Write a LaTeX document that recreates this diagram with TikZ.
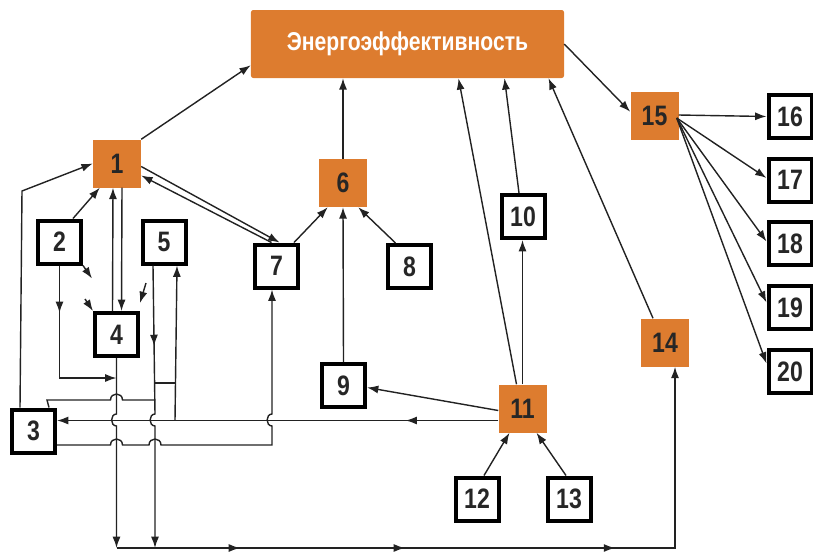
\documentclass[tikz,border=0pt]{standalone}
\usepackage{fontspec}
\setmainfont{Liberation Sans}[FakeStretch=0.82]
\usepackage{xcolor}
\usetikzlibrary{arrows.meta, calc, decorations.markings}
\definecolor{effOrange}{HTML}{DD7C2F}
\definecolor{boxText}{HTML}{262626}
\definecolor{wireGray}{HTML}{222222}

\tikzset{
  whitebox/.style={draw=black, fill=white, line width=0.12cm, minimum size=1.29cm,
                   inner sep=0pt, font=\fontsize{24}{27}\selectfont\bfseries, text=boxText},
  orangebox/.style={fill=effOrange, minimum size=1.44cm, inner sep=0pt,
                    font=\fontsize{24}{27}\selectfont\bfseries, text=boxText},
  wire/.style={line width=1.2pt, draw=wireGray},
  conn/.style={wire, -{Latex[length=3.4mm, width=2.4mm]}},
  arrowat/.style={postaction={decorate, decoration={markings,
      mark=at position #1 with {\arrow{Latex[length=3.4mm, width=2.4mm]}}}}},
}

\begin{document}
\begin{tikzpicture}[x=0.03cm, y=-0.03cm]
  \useasboundingbox (0,0) rectangle (813,552);

  \node[fill=effOrange, rounded corners=2pt, minimum width=9.39cm, minimum height=2.04cm,
        inner sep=0pt, text=white, font=\fontsize{22}{26}\selectfont\bfseries]
        (energy) at (407.5,44) {Энергоэффективность};

  \node[orangebox] (n1) at (117,163.5) {1};
  \node[whitebox] (n2) at (59.5,242) {2};
  \node[whitebox] (n3) at (33.5,431) {3};
  \node[whitebox] (n4) at (116.5,334.5) {4};
  \node[whitebox] (n5) at (164,242) {5};
  \node[orangebox] (n6) at (343,183) {6};
  \node[whitebox] (n7) at (276.5,266) {7};
  \node[whitebox] (n8) at (409.5,266.5) {8};
  \node[whitebox] (n9) at (343.5,385.5) {9};
  \node[whitebox] (n10) at (523,216.5) {10};
  \node[orangebox] (n11) at (522.5,408.5) {11};
  \node[whitebox] (n12) at (477,499) {12};
  \node[whitebox] (n13) at (569,499) {13};
  \node[orangebox] (n14) at (665,342.5) {14};
  \node[orangebox] (n15) at (654.5,116) {15};
  \node[whitebox] (n16) at (790,116.5) {16};
  \node[whitebox] (n17) at (790,180) {17};
  \node[whitebox] (n18) at (790,243.5) {18};
  \node[whitebox] (n19) at (790,307.5) {19};
  \node[whitebox] (n20) at (790,371.5) {20};

  \coordinate (j4) at (116.5,378);
  \coordinate (j5) at (175,420.5);
  \coordinate (b4) at (116.5,548);
  \coordinate (b5) at (155,548);
  \coordinate (w11) at ($(n11.west)+(0,12)$);
  \coordinate (e3) at ($(n3.east)+(0,14)$);

  \draw[conn] (n1.north east) -- ($(energy.south west)+(0,-13)$);
  \draw[conn] (n6.north) -- (n6.north |- energy.south);
  \draw[conn] ($(n11.north)+(-6,0)$) -- ($(energy.south)+(51,0)$);
  \draw[conn] ($(n10.north)+(-4,0)$) -- ($(energy.south)+(97,0)$);
  \draw[conn] ($(n14.north)+(-12,0)$) -- ($(energy.south)+(141,0)$);
  \draw[conn] (energy.east) -- ($(n15.north west)+(0,20)$);

  \draw[conn] ($(n15.east)+(0,-1)$) -- (n16.west);
  \draw[conn] ($(n15.east)+(-2,2)$) -- ($(n17.west)+(0,-2)$);
  \draw[conn] ($(n15.east)+(-2,2)$) -- ($(n18.west)+(0,-2)$);
  \draw[conn] ($(n15.east)+(-2,2)$) -- ($(n19.west)+(0,-5)$);
  \draw[conn] ($(n15.east)+(-2,2)$) -- ($(n20.west)+(0,-8)$);

  \draw[conn] ($(n3.north west)+(10,0)$) -- (22,191) -- (n1.west);
  \draw[conn] ($(n2.north east)+(-10,0)$) -- ($(n1.south west)+(7,0)$);
  \draw[conn] (n2.south east) -- ($(n2.south east)+(9,13)$);
  \draw[conn] ($(n4.north west)+(-8,-12)$) -- (n4.north west);
  \draw[conn] ($(n4.north east)+(6,-28)$) -- ($(n4.north east)+(0,-8)$);
  \draw[conn] ($(n4.north)+(-4,0)$) -- ($(n1.south)+(-4,0)$);
  \draw[conn] ($(n1.south)+(5,0)$) -- ($(n4.north)+(5,0)$);
  \draw[conn] ($(n1.east)+(0,3)$) -- ($(n7.north)+(3,0)$);
  \draw[conn] ($(n7.north)+(-5,0)$) -- ($(n1.east)+(0,12)$);

  \draw[conn] ($(n7.north east)+(-6,0)$) -- ($(n6.south west)+(9,0)$);
  \draw[conn] ($(n8.north)+(-14,0)$) -- ($(n6.south east)+(-9,0)$);
  \draw[conn] (n9.north) -- (n6.south);
  \draw[conn] ($(n11.west)+(0,2)$) -- ($(n9.east)+(0,2)$);
  \draw[conn] (n11.north) -- (n11.north |- n10.south);
  \draw[conn] ($(n12.north)+(7,0)$) -- ($(n11.south)+(-13,0)$);
  \draw[conn] ($(n13.north)+(-3,0)$) -- ($(n11.south)+(14,0)$);

  \draw[conn, arrowat=0.21] (w11) -- (w11 -| n3.east);
  \draw[conn, arrowat=0.28] (n2.south) |- (j4);
  \draw[conn] (n4.south) -- (116.5,414) .. controls (110,414) and (110,426) .. (116.5,426) -- (b4);
  \draw[conn, arrowat=0.28] ($(n5.south west)+(12.5,0)$) -- (155,414)
        .. controls (148.5,414) and (148.5,426) .. (155,426) -- (b5);
  \draw[conn] (j5) -- ($(n5.south east)+(-10.5,0)$);
  \draw[wire] (155,383) -- (175,383);
  \draw[wire] ($(n3.north east)+(-8,0)$) -- (47,400) -- (110.5,400)
        .. controls (110.5,392) and (122.5,392) .. (122.5,400) -- (155,400);
  \draw[conn] (e3) -- (110.5,445) .. controls (110.5,437) and (122.5,437) .. (122.5,445)
        -- (149,445) .. controls (149,437) and (161,437) .. (161,445)
        -- (272,445) -- (272,426) .. controls (265.5,426) and (265.5,414) .. (272,414)
        -- ($(n7.south)+(-4.5,0)$);
  \draw[conn, arrowat=0.167, arrowat=0.39, arrowat=0.674] (b4) -| ($(n14.south)+(10,0)$);
\end{tikzpicture}
\end{document}
